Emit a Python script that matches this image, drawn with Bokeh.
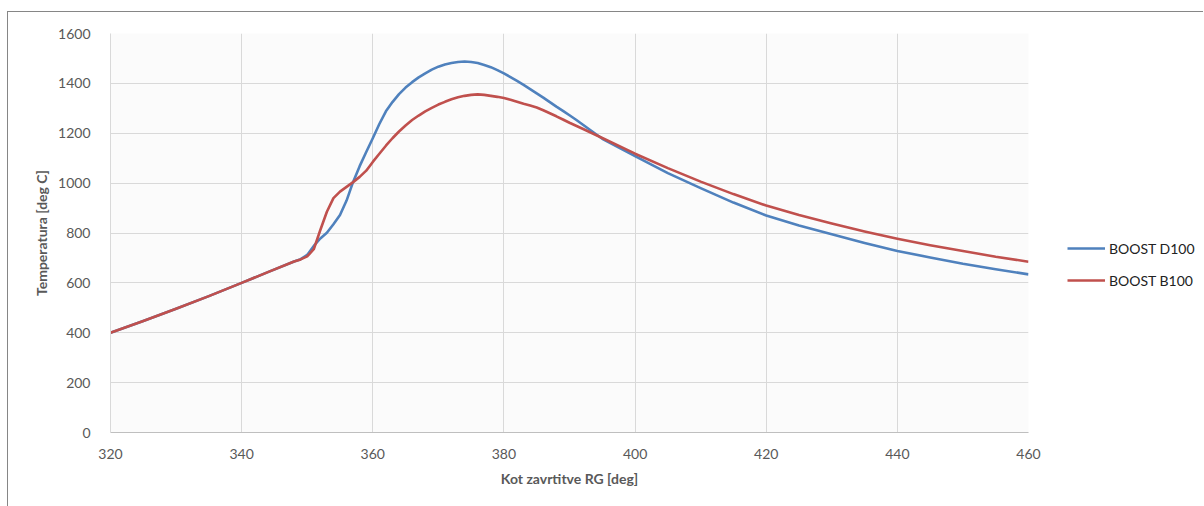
from bokeh.plotting import figure
from bokeh.models import Range1d, SingleIntervalTicker, Legend, LegendItem
from bokeh.layouts import row
from bokeh.embed import file_html
from bokeh.resources import INLINE

# crank angle [deg]
angle = [320, 325, 330, 335, 340, 344, 348, 349, 350, 351, 352, 353, 354, 355,
         356, 357, 358, 359, 360, 361, 362, 363, 364, 365, 366, 367, 368, 369,
         370, 371, 372, 373, 374, 375, 376, 377, 378, 379, 380, 381, 382, 383,
         384, 385, 386, 387, 388, 389, 390, 391, 392, 395, 400, 405,
         410, 415, 420, 425, 430, 435, 440, 445, 450, 455, 460]

# BOOST D100 temperature [deg C]
t_d100 = [400, 447, 496, 547, 600, 643, 686, 695, 712, 748, 778, 801, 835, 872,
          930, 1005, 1068, 1125, 1180, 1237, 1288, 1325, 1357, 1383, 1405, 1424, 1440, 1455,
          1467, 1476, 1482, 1486, 1488, 1486, 1482, 1474, 1465, 1453, 1440, 1425, 1410, 1394,
          1377, 1360, 1343, 1325, 1307, 1290, 1272, 1254, 1235, 1178, 1108, 1040,
          980, 922, 870, 830, 795, 760, 728, 702, 677, 655, 634]

# BOOST B100 temperature [deg C]
t_b100 = [400, 447, 496, 547, 600, 643, 686, 694, 706, 735, 812, 885, 940, 966,
          985, 1004, 1025, 1050, 1085, 1118, 1150, 1180, 1207, 1231, 1253, 1271, 1288, 1302,
          1315, 1326, 1336, 1344, 1350, 1354, 1356, 1354, 1350, 1346, 1341, 1334, 1326, 1318,
          1311, 1303, 1292, 1280, 1268, 1255, 1242, 1230, 1218, 1181, 1118, 1060,
          1006, 956, 910, 872, 838, 806, 777, 751, 728, 705, 685]

series_names = ["BOOST D100", "BOOST B100"]
colors = ["#4F81BD", "#C0504D"]
x_title = "Kot zavrtitve RG [deg]"
y_title = "Temperatura [deg C]"

FONT = "Lato"
GRID = "#D9D9D9"
TXT = "#595959"
BORDER = "1px solid #868686"

p = figure(width=1050, height=495, output_backend="svg", toolbar_location=None,
           x_range=Range1d(320, 460), y_range=Range1d(0, 1600),
           min_border_left=102, min_border_right=30, min_border_top=21, min_border_bottom=75)
p.margin = (11, 0, 0, 7)
p.styles = {"border-left": BORDER, "border-top": BORDER}

p.border_fill_color = "#FFFFFF"
p.outline_line_color = None
p.background_fill_color = "#FBFBFB"

p.xaxis.ticker = SingleIntervalTicker(interval=20)
p.yaxis.ticker = SingleIntervalTicker(interval=200)
for ax in (p.xaxis[0], p.yaxis[0]):
    ax.major_tick_line_color = None
    ax.minor_tick_line_color = None
    ax.major_label_text_font = FONT
    ax.major_label_text_font_size = "14px"
    ax.major_label_text_color = TXT
    ax.axis_label_text_font = FONT
    ax.axis_label_text_font_size = "14px"
    ax.axis_label_text_font_style = "bold"
    ax.axis_label_text_color = TXT
p.xaxis.axis_line_color = "#BFBFBF"
p.yaxis.axis_line_color = GRID
p.xaxis.major_label_standoff = 10
p.yaxis.major_label_standoff = 14
p.xaxis.axis_label = x_title
p.yaxis.axis_label = y_title
p.xaxis.axis_label_standoff = 8
p.yaxis.axis_label_standoff = 5

p.xgrid.grid_line_color = GRID
p.ygrid.grid_line_color = GRID

p.line(angle, t_d100, line_color=colors[0], line_width=2.6, line_join="round")
p.line(angle, t_b100, line_color=colors[1], line_width=2.6, line_join="round")

# legend panel to the right of the plot area (its own figure, lines kept out of view)
q = figure(width=146, height=495, output_backend="svg", toolbar_location=None,
           x_range=Range1d(0, 1), y_range=Range1d(0, 1),
           min_border_left=0, min_border_right=0, min_border_top=21, min_border_bottom=75)
q.margin = (11, 0, 0, 0)
q.styles = {"border-top": BORDER}
q.axis.visible = False
q.grid.visible = False
q.outline_line_color = None
q.background_fill_color = "#FFFFFF"
q.border_fill_color = "#FFFFFF"
r1 = q.line(angle, t_d100, line_color=colors[0], line_width=2.6)
r2 = q.line(angle, t_b100, line_color=colors[1], line_width=2.6)

legend = Legend(items=[LegendItem(label=series_names[0], renderers=[r1]),
                       LegendItem(label=series_names[1], renderers=[r2])],
                location=(10, 142), padding=0, margin=0, spacing=12,
                glyph_width=38, glyph_height=20, label_standoff=4,
                label_text_font=FONT, label_text_font_size="14px",
                label_text_color="#222222",
                background_fill_alpha=0, border_line_color=None)
q.add_layout(legend, "center")

layout = row(p, q, spacing=0)
open("out.html", "w").write(file_html(layout, INLINE))
